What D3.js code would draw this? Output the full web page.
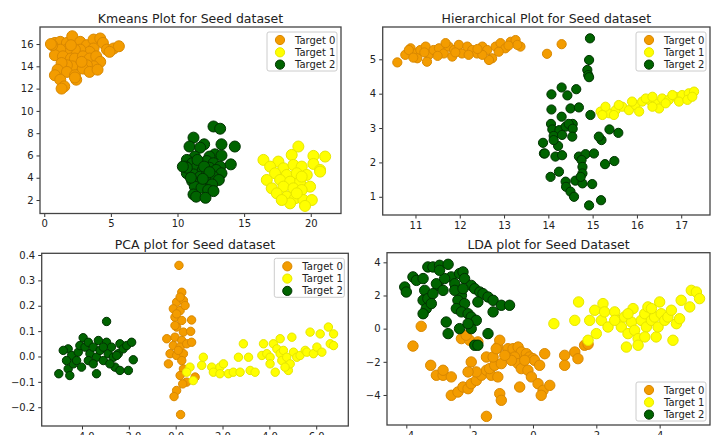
<!DOCTYPE html>
<html><head><meta charset="utf-8">
<script src="https://cdn.jsdelivr.net/npm/d3@7"></script>
<style>body{margin:0;background:#fff}svg{display:block}text{font-family:"DejaVu Sans",sans-serif;fill:#222}</style>
</head><body>
<svg id="c" width="724" height="435"></svg>
<script>
const seriesNames = ["Target 0", "Target 1", "Target 2"];
const titles = ["Kmeans Plot for Seed dataset", "Hierarchical Plot for Seed dataset", "PCA plot for Seed dataset", "LDA plot for Seed Dataset"];

const kmeansT0 = [[0.8,16.1],[1.2,16.2],[1.7,16.1],[2.1,16.7],[2.7,16.2],[3.2,15.9],[3.7,16.4],[4.2,16.5],[4.4,16.1],[3.7,15.6],[3.4,15.3],[2.7,15.5],[2.3,15.5],[1.7,15.5],[1.2,15.5],[0.8,15.0],[1.4,14.9],[2.0,14.7],[2.3,14.7],[2.9,14.9],[3.4,14.7],[3.9,14.9],[4.2,14.4],[3.7,14.0],[3.2,14.1],[2.7,14.1],[2.1,14.0],[1.7,14.1],[1.3,14.3],[1.0,13.7],[1.7,13.5],[2.3,13.2],[2.4,12.8],[2.9,13.8],[3.4,13.5],[4.0,13.7],[4.7,15.5],[5.2,15.6],[5.6,15.8],[4.9,15.3],[0.8,13.2],[1.2,12.8],[1.5,12.2],[1.3,12.0],[2.3,13.0],[2.8,14.4],[2.0,15.9],[0.6,15.9],[0.5,16.0]];
const kmeansT1 = [[16.45,5.6],[17.57,5.45],[18.57,6.05],[19.07,6.8],[20.2,5.96],[21.08,5.9],[16.95,5.0],[17.95,4.85],[18.7,5.15],[19.32,5.0],[20.2,5.24],[20.7,4.7],[17.32,4.4],[18.2,4.25],[18.95,4.4],[19.7,4.25],[20.7,4.55],[16.7,3.8],[17.7,3.8],[18.45,3.65],[19.2,3.65],[19.95,3.2],[17.07,3.05],[17.95,3.2],[18.7,3.05],[19.32,2.9],[17.45,2.6],[18.2,2.3],[18.82,2.16],[19.45,2.0],[20.08,2.0],[19.57,1.47],[18.45,1.7],[18.95,2.6],[17.82,2.0],[19.32,4.1]];
const kmeansT2 = [[12.7,8.6],[13.2,8.4],[11.2,7.6],[13.3,7.0],[14.3,6.8],[12.0,7.0],[10.9,6.8],[11.7,6.7],[12.8,6.1],[13.3,6.0],[12.4,5.9],[11.3,5.9],[10.7,5.6],[11.1,5.3],[11.7,5.3],[12.2,5.5],[12.7,5.3],[13.2,5.0],[14.0,5.2],[10.6,5.0],[10.9,4.7],[11.4,4.9],[11.9,4.7],[12.4,4.9],[12.9,4.7],[13.3,4.4],[10.7,4.4],[11.2,4.3],[11.7,4.1],[12.2,4.3],[12.7,4.1],[13.1,3.8],[11.1,3.7],[11.6,3.5],[12.1,3.7],[12.6,3.4],[11.3,3.2],[11.8,3.1],[12.3,2.9],[12.7,2.8],[11.2,2.5],[11.4,2.3],[12.1,2.2],[10.7,4.9],[10.4,5.0],[11.5,5.6],[12.0,5.0],[11.0,4.0],[12.4,4.5],[11.9,3.9]];

const hierT0 = [[10.59,4.91],[10.77,5.13],[10.89,5.32],[11.0,5.17],[11.11,5.27],[11.23,5.37],[11.3,5.13],[11.41,5.27],[11.53,5.32],[11.64,5.17],[11.75,5.37],[11.87,5.27],[11.98,5.42],[12.05,5.17],[12.17,5.37],[12.28,5.27],[12.39,5.17],[12.51,5.37],[12.62,5.27],[12.73,5.03],[12.81,5.37],[12.92,5.47],[13.03,5.32],[13.15,5.51],[13.26,5.56],[13.37,5.37],[12.66,4.98],[12.2,5.13],[11.83,5.08],[11.26,4.93],[11.04,5.03],[10.85,5.27],[11.68,5.47],[12.51,5.13],[12.88,5.22],[13.3,5.42],[13.97,5.16],[14.3,5.44],[11.2,5.2],[11.9,5.2],[12.4,5.3],[13.1,5.4],[10.95,5.05],[11.5,5.1]];
const hierT1 = [[15.18,3.48],[15.37,3.43],[15.52,3.52],[15.67,3.62],[15.82,3.52],[15.97,3.67],[16.12,3.77],[16.27,3.82],[16.42,3.72],[16.57,3.86],[16.72,3.82],[16.87,3.91],[17.02,3.96],[17.17,4.01],[17.29,4.06],[15.29,3.62],[15.59,3.67],[15.89,3.77],[16.2,3.86],[16.35,3.91],[16.5,3.57],[16.65,3.72],[16.95,3.77],[17.14,3.82],[17.25,3.91],[16.05,3.48],[15.48,3.38],[15.22,3.38],[16.35,3.62],[16.8,3.96]];
const hierT2 = [[14.94,5.61],[14.92,4.98],[14.88,4.69],[14.9,4.54],[14.92,4.48],[14.07,3.98],[14.3,4.18],[14.43,3.95],[14.63,4.13],[14.07,3.54],[14.3,3.33],[14.5,3.57],[14.69,3.6],[14.95,3.38],[14.06,3.12],[14.09,2.96],[14.25,2.94],[14.39,3.04],[14.55,3.12],[14.46,3.12],[14.55,2.98],[14.12,2.77],[14.31,2.8],[14.54,2.75],[13.88,2.57],[14.22,2.48],[15.2,2.65],[15.38,2.96],[15.58,2.86],[15.14,2.75],[13.9,2.26],[14.16,2.17],[14.31,2.21],[14.69,2.17],[14.84,2.24],[15.03,2.26],[14.75,2.07],[14.77,1.87],[14.77,1.68],[15.28,1.95],[15.49,2.04],[14.05,1.58],[14.24,1.73],[14.39,1.44],[14.4,1.29],[14.5,1.15],[14.58,1.0],[14.61,1.47],[14.77,1.39],[14.99,1.37],[14.92,0.75],[15.19,0.9],[14.73,1.58],[14.12,2.65],[13.92,2.26]];

const pcaT0 = [[0.14,0.359],[0.26,0.253],[0.04,0.214],[0.33,0.221],[-0.1,0.188],[0.19,0.181],[0.4,0.201],[-0.03,0.155],[0.26,0.142],[0.68,0.144],[0.04,0.116],[0.33,0.096],[0.64,0.099],[-0.38,0.07],[-0.03,0.076],[0.26,0.063],[-0.1,0.043],[0.19,0.037],[0.47,0.05],[-0.24,0.011],[0.04,0.004],[0.33,0.011],[0.68,0.056],[0.11,0.024],[-0.31,-0.029],[0.33,-0.049],[0.19,-0.075],[0.83,-0.081],[0.47,-0.101],[0.3,-0.108],[0.04,-0.134],[-0.07,-0.158],[0.21,-0.229],[0.26,-0.016],[0.04,0.168],[0.19,0.234],[-0.03,0.122]];
const pcaT1 = [[0.61,-0.042],[0.75,-0.095],[1.11,-0.035],[1.18,-0.003],[1.54,-0.042],[1.89,-0.042],[2.04,-0.029],[2.25,-0.068],[2.46,-0.062],[2.68,-0.003],[2.75,-0.062],[2.89,0.05],[3.11,-0.003],[3.18,-0.055],[3.39,-0.062],[3.68,0.004],[3.75,0.05],[3.89,0.011],[4.03,-0.003],[4.17,0.05],[4.25,-0.062],[4.32,0.03],[4.46,0.011],[4.53,-0.016],[4.6,0.024],[4.74,-0.003],[4.81,-0.055],[4.89,-0.029],[4.96,0.076],[5.03,0.017],[5.17,-0.003],[5.31,0.004],[5.53,0.024],[5.6,0.017],[5.74,0.096],[5.88,0.011],[6.03,0.037],[6.17,0.089],[6.24,0.017],[6.52,0.116],[6.6,0.05],[6.74,0.089],[6.74,0.043],[0.47,-0.062],[1.61,-0.062],[4.03,-0.029],[4.67,-0.042],[4.46,0.07],[1.89,-0.068]];
const pcaT2 = [[-4.99,-0.068],[-4.59,-0.049],[-4.52,-0.075],[-4.37,-0.029],[-4.59,0.03],[-4.44,0.004],[-4.16,0.017],[-4.09,0.043],[-3.95,0.074],[-3.87,0.037],[-3.73,0.056],[-4.23,-0.016],[-4.02,-0.042],[-3.66,0.011],[-3.52,0.037],[-3.38,-0.003],[-3.3,0.063],[-3.23,0.024],[-3.09,-0.016],[-2.95,0.138],[-2.95,0.056],[-2.88,0.011],[-2.74,0.037],[-2.66,-0.003],[-2.59,-0.042],[-2.45,0.011],[-2.38,0.05],[-2.24,0.03],[-2.09,0.043],[-1.88,0.056],[-1.81,-0.013],[-2.02,-0.055],[-2.38,-0.055],[-3.38,-0.068],[-3.73,-0.016],[-3.09,0.037],[-4.8,0.024],[-4.66,-0.016],[-3.52,-0.029],[-2.81,-0.029],[-2.52,0.004]];

const ldaT0 = [[-3.53,0.14],[-3.79,-1.05],[-3.23,-2.21],[-3.05,-2.81],[-2.84,-2.81],[-2.58,-2.91],[-2.84,-2.51],[-2.58,-4.02],[-2.37,-3.82],[-2.21,-3.52],[-2.05,-3.62],[-1.95,-3.32],[-1.79,-3.12],[-1.63,-2.81],[-1.47,-2.51],[-1.32,-2.81],[-1.11,-2.91],[-1.37,-2.41],[-1.21,-2.21],[-1.0,-2.11],[-1.79,-2.61],[-1.95,-2.01],[-2.05,-2.61],[-1.47,-1.71],[-1.26,-1.71],[-1.11,-1.11],[-1.05,-0.7],[-1.16,-1.21],[-2.26,-0.6],[-2.0,-0.7],[-1.74,-0.8],[-0.79,-1.21],[-0.63,-1.21],[-0.47,-1.11],[-0.37,-1.41],[-0.21,-1.51],[-0.11,-1.71],[0.0,-1.81],[-0.58,-1.71],[-0.47,-2.11],[-0.37,-2.41],[-0.16,-2.51],[-0.05,-2.91],[0.05,-1.91],[0.21,-2.21],[0.37,-1.51],[-0.42,-3.52],[0.16,-3.32],[0.32,-3.72],[0.26,-4.02],[0.53,-3.42],[-1.05,-3.92],[-1.0,-4.32],[-1.47,-5.29],[1.0,-1.61],[1.0,-2.21],[1.32,-1.41],[1.42,-1.81],[1.63,-1.0],[1.74,-0.94],[-0.26,-1.91],[-0.68,-1.91],[-0.89,-1.61],[-2.11,-0.4]];
const ldaT1 = [[0.66,0.3],[1.32,0.5],[1.44,1.61],[1.79,0.5],[1.95,1.11],[2.0,-0.3],[2.21,1.51],[2.16,0.5],[2.26,1.01],[2.37,0.1],[2.58,1.01],[2.68,0.5],[2.79,0.1],[2.89,0.7],[2.95,-1.11],[3.0,-0.3],[3.11,0.4],[3.16,1.21],[3.21,-0.1],[3.32,-0.6],[3.32,-1.0],[3.42,0.5],[3.53,0.9],[3.58,0.1],[3.63,1.31],[3.74,0.5],[3.84,0.7],[3.89,-0.5],[3.95,0.1],[4.0,1.61],[4.05,0.9],[4.16,0.5],[4.26,0.7],[4.37,1.11],[4.42,-0.7],[4.53,0.3],[4.63,0.6],[4.68,1.71],[4.95,1.31],[5.0,2.31],[5.16,2.21],[5.26,1.81],[3.74,1.21],[3.0,0.9],[2.58,0.5],[1.74,-0.7],[3.53,-0.5]];
const ldaT2 = [[-4.05,2.51],[-4.0,2.21],[-3.79,3.12],[-3.68,2.91],[-3.47,3.02],[-3.32,3.72],[-3.16,3.72],[-2.95,3.82],[-2.68,3.88],[-3.0,2.61],[-3.05,2.71],[-3.42,2.31],[-3.47,1.71],[-3.32,1.81],[-3.16,2.11],[-2.84,2.31],[-2.58,3.12],[-2.47,2.71],[-2.32,3.32],[-2.21,3.42],[-2.16,3.02],[-1.95,2.61],[-1.84,2.41],[-1.68,2.21],[-1.58,2.11],[-1.42,1.91],[-1.26,1.71],[-1.0,1.41],[-0.74,1.41],[-2.26,2.01],[-2.37,1.71],[-2.16,1.51],[-2.42,1.21],[-2.26,1.01],[-2.05,0.9],[-1.95,0.7],[-1.79,0.5],[-2.74,0.4],[-2.68,-0.3],[-2.32,0.0],[-1.95,0.0],[-2.05,0.3],[-1.84,-1.0],[-1.74,-1.0],[-1.26,1.01],[-1.42,-0.3],[-3.37,1.21],[-3.47,0.9],[-1.74,1.61],[-2.47,2.31],[-2.21,2.41],[-2.79,3.02],[-3.21,1.51],[-2.95,3.52]];

const kmeansXTicks = [0,5,10,15,20], kmeansYTicks = [2,4,6,8,10,12,14,16];
const hierXTicks = [11,12,13,14,15,16,17], hierYTicks = [1,2,3,4,5];
const pcaXTicks = [-4,-2,0,2,4,6], pcaYTicks = [-0.2,-0.1,0.0,0.1,0.2,0.3,0.4];
const ldaXTicks = [-4,-2,0,2,4], ldaYTicks = [-4,-2,0,2,4];

const fills = ["#f39c00", "#ffff00", "#006400"];
const strokes = ["#d98800", "#e6e600", "#003300"];

const panels = [
  {title: titles[0], series: [kmeansT0, kmeansT1, kmeansT2], xd: [-0.32, 22.27], yd: [0.79, 17.53], xt: kmeansXTicks, yt: kmeansYTicks, fmt: d=>d, box: [40, 27, 341, 213.5], r: 5.5, leg: "tr"},
  {title: titles[1], series: [hierT0, hierT1, hierT2], xd: [10.26, 17.65], yd: [0.47, 5.94], xt: hierXTicks, yt: hierYTicks, fmt: d=>d, box: [382.7, 27, 710, 215], r: 4.6, leg: "tr"},
  {title: titles[2], series: [pcaT0, pcaT1, pcaT2], xd: [-5.72, 7.37], yd: [-0.274, 0.4067], xt: pcaXTicks, yt: pcaYTicks, fmt: d3.format(".1f"), box: [41.7, 253.3, 348.3, 426], r: 4.2, leg: "tr"},
  {title: titles[3], series: [ldaT0, ldaT1, ldaT2], xd: [-4.61, 5.59], yd: [-5.81, 4.58], xt: ldaXTicks, yt: ldaYTicks, fmt: d=>d, box: [387, 252.7, 710, 425], r: 5.2, leg: "br"}
];

const svg = d3.select("#c");
const minus = s => String(s).replace("-", "\u2212");

panels.forEach(p => {
  const [x0, y0, x1, y1] = p.box;
  const x = d3.scaleLinear().domain(p.xd).range([x0, x1]);
  const y = d3.scaleLinear().domain(p.yd).range([y1, y0]);
  const g = svg.append("g");
  const clipId = "clip" + Math.round(x0) + Math.round(y0);
  svg.append("clipPath").attr("id", clipId).append("rect").attr("x", x0).attr("y", y0).attr("width", x1 - x0).attr("height", y1 - y0);

  const pts = g.append("g").attr("clip-path", `url(#${clipId})`);
  p.series.forEach((s, i) => {
    pts.append("g").selectAll("circle").data(s).join("circle")
      .attr("cx", d => x(d[0])).attr("cy", d => y(d[1])).attr("r", p.r)
      .attr("fill", fills[i]).attr("stroke", strokes[i]).attr("stroke-width", 1);
  });

  const xa = g.append("g").attr("transform", `translate(0,${y1})`)
    .call(d3.axisBottom(x).tickValues(p.xt).tickSize(3.5).tickPadding(3).tickFormat(d => minus(p.fmt(d))));
  const ya = g.append("g").attr("transform", `translate(${x0},0)`)
    .call(d3.axisLeft(y).tickValues(p.yt).tickSize(3.5).tickPadding(3).tickFormat(d => minus(p.fmt(d))));
  [xa, ya].forEach(a => {
    a.select(".domain").remove();
    a.selectAll("text").attr("font-size", 10).attr("fill", "#222").style("font-family", "DejaVu Sans");
    a.selectAll("line").attr("stroke", "#333");
  });
  g.append("rect").attr("x", x0).attr("y", y0).attr("width", x1 - x0).attr("height", y1 - y0)
    .attr("fill", "none").attr("stroke", "#444").attr("stroke-width", 1.3);

  g.append("text").attr("x", (x0 + x1) / 2).attr("y", y0 - 4).attr("text-anchor", "middle")
    .attr("font-size", 12.5).text(p.title);

  const lw = 70, lh = 39;
  const lx = x1 - 4 - lw;
  const ly = p.leg === "tr" ? y0 + 5 : y1 - 4 - lh;
  const lg = g.append("g").attr("transform", `translate(${lx},${ly})`);
  lg.append("rect").attr("width", lw).attr("height", lh).attr("rx", 2)
    .attr("fill", "#fff").attr("fill-opacity", 0.85).attr("stroke", "#ccc");
  seriesNames.forEach((n, i) => {
    lg.append("circle").attr("cx", 13).attr("cy", 8 + i * 12.3).attr("r", 4.6)
      .attr("fill", fills[i]).attr("stroke", strokes[i]);
    lg.append("text").attr("x", 28).attr("y", 8 + i * 12.3).attr("dy", "0.35em")
      .attr("font-size", 10).text(n);
  });
});
</script>
</body></html>
